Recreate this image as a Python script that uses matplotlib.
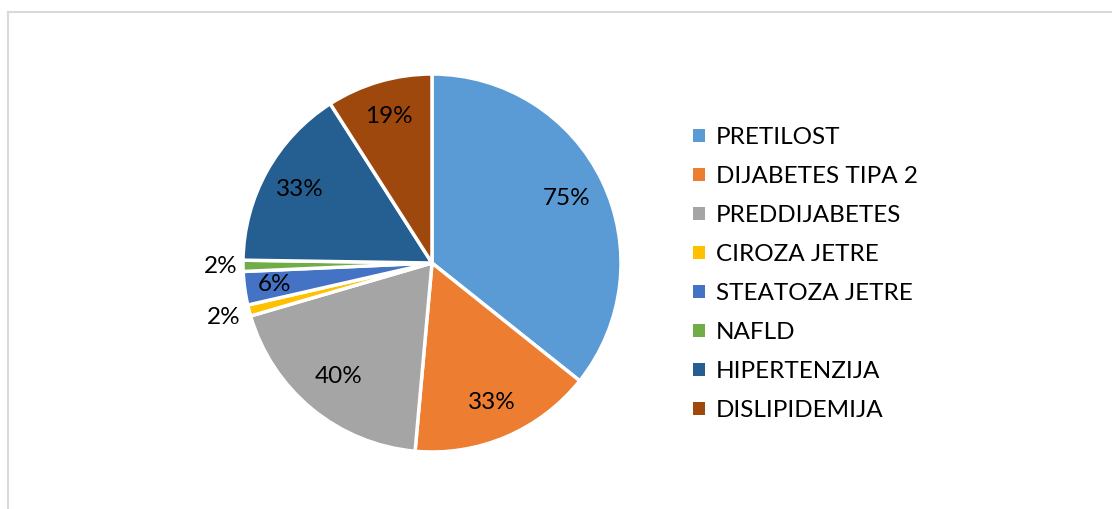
import matplotlib.pyplot as plt
from matplotlib.patches import Patch
from matplotlib.lines import Line2D
import numpy as np

# Data
categories = ["PRETILOST", "DIJABETES TIPA 2", "PREDDIJABETES", "CIROZA JETRE",
              "STEATOZA JETRE", "NAFLD", "HIPERTENZIJA", "DISLIPIDEMIJA"]
values = [75, 33, 40, 2, 6, 2, 33, 19]
colors = ["#5B9BD5", "#ED7D31", "#A5A5A5", "#FFC000",
          "#4472C4", "#70AD47", "#255E91", "#9E480E"]
# label distance per slice (small slices get their label pushed outside)
label_dist = [0.79, 0.80, 0.78, 1.14, 0.84, 1.12, 0.80, 0.81]

plt.rcParams["font.family"] = ["Lato", "DejaVu Sans"]

W, H = 1112, 509
fig = plt.figure(figsize=(W / 100, H / 100), dpi=100)

# light chart-area border (top and left visible)
fig.add_artist(Line2D([8 / W, 8 / W], [0, 1 - 12 / H], color="#D9D9D9", lw=1.5))
fig.add_artist(Line2D([8 / W, 1], [1 - 12 / H, 1 - 12 / H], color="#D9D9D9", lw=1.5))

cx, cy, r = 432, 263, 189
ax = fig.add_axes([(cx - r) / W, (H - cy - r) / H, 2 * r / W, 2 * r / H])
wedges, _ = ax.pie(values, colors=colors, startangle=90, counterclock=False,
                   wedgeprops=dict(edgecolor="white", linewidth=2.5))
ax.set_xlim(-1, 1)
ax.set_ylim(-1, 1)
ax.set_aspect("equal")
ax.axis("off")

for w, v, d in zip(wedges, values, label_dist):
    ang = np.deg2rad((w.theta1 + w.theta2) / 2)
    ax.text(d * np.cos(ang), d * np.sin(ang), f"{v}%", ha="center", va="center",
            fontsize=17.5, color="#000000")

handles = [Patch(facecolor=c, edgecolor="none") for c in colors]
fig.legend(handles, categories, loc="upper left",
           bbox_to_anchor=(681 / W, 1 - 115 / H), frameon=False,
           fontsize=17.5, handlelength=0.5, handleheight=0.5,
           handletextpad=0.45, labelspacing=0.74, borderpad=0)

fig.savefig("out.png", dpi=100, facecolor="white")
